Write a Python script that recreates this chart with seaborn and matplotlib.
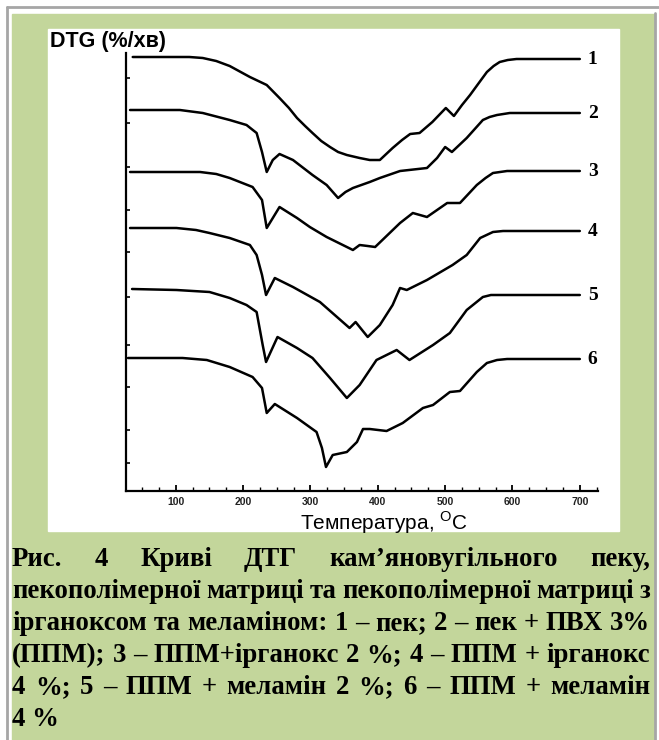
import numpy as np
import pandas as pd
import matplotlib
matplotlib.use("Agg")
import matplotlib.pyplot as plt
from matplotlib.patches import Rectangle
from matplotlib.lines import Line2D
from matplotlib.ticker import MultipleLocator
import seaborn as sns

# DTG curves: temperature (C) and DTG (arbitrary units, curves shifted)
t1 = [36, 120, 140, 160, 180, 210, 235, 254, 268, 280, 292, 303, 316, 329, 341, 354, 373, 388, 403, 422, 436, 448, 462, 481, 501, 513, 525, 537, 550, 562, 572, 581, 593, 606, 700]
dtg1 = [434, 434, 433, 430, 425, 414, 406, 393, 383, 373, 365, 358, 350, 344, 339, 336, 333, 331, 331, 343, 351, 357, 358, 369, 383, 375, 386, 396, 408, 419, 425, 429, 431, 432, 432]

t2 = [32, 106, 140, 180, 205, 220, 228, 235, 244, 254, 274, 303, 324, 341, 352, 363, 388, 403, 433, 473, 488, 500, 510, 532, 556, 566, 577, 596, 700]
dtg2 = [381, 381, 378, 371, 366, 358, 339, 319, 331, 337, 331, 316, 306, 293, 299, 303, 309, 313, 320, 323, 333, 344, 339, 353, 371, 374, 376, 378, 378]

t3 = [32, 136, 160, 180, 214, 228, 235, 254, 280, 299, 324, 363, 373, 385, 396, 433, 452, 473, 503, 522, 547, 560, 571, 592, 700]
dtg3 = [319, 319, 317, 313, 304, 291, 263, 284, 273, 264, 254, 241, 246, 245, 244, 268, 278, 274, 288, 288, 306, 313, 318, 320, 320]

t4 = [32, 101, 130, 150, 180, 210, 220, 228, 234, 247, 274, 314, 358, 367, 385, 403, 422, 433, 443, 473, 511, 532, 552, 571, 586, 700]
dtg4 = [263, 263, 261, 258, 253, 246, 236, 216, 196, 213, 204, 189, 163, 169, 154, 166, 186, 203, 201, 211, 226, 236, 253, 259, 260, 260]

t5 = [35, 101, 150, 180, 205, 220, 229, 234, 251, 280, 303, 329, 354, 373, 398, 428, 447, 482, 507, 532, 556, 568, 581, 700]
dtg5 = [202, 201, 199, 193, 186, 179, 146, 129, 154, 143, 133, 113, 93, 106, 131, 141, 131, 146, 158, 181, 194, 196, 196, 196]

t6 = [29, 110, 146, 180, 214, 228, 235, 247, 280, 309, 317, 323, 333, 354, 369, 378, 388, 413, 437, 467, 482, 507, 522, 547, 562, 577, 592, 700]
dtg6 = [133, 133, 131, 124, 114, 103, 78, 87, 73, 59, 43, 24, 36, 39, 49, 62, 62, 60, 68, 83, 86, 99, 100, 119, 128, 131, 132, 132]

curve_names = ["1", "2", "3", "4", "5", "6"]
temps = [t1, t2, t3, t4, t5, t6]
dtgs = [dtg1, dtg2, dtg3, dtg4, dtg5, dtg6]

x_ticks = [100, 200, 300, 400, 500, 600, 700]
y_ticks = [28, 61, 104, 146, 194, 239, 281, 324, 368, 413]

y_title = "DTG (%/хв)"
x_title = "Температура, $^{\\mathrm{O}}$C"
caption_lines = [
    "Рис. 4 Криві ДТГ кам’яновугільного пеку,",
    "пекополімерної матриці та пекополімерної матриці з",
    "ірганоксом та меламіном: 1 – пек; 2 – пек + ПВХ 3%",
    "(ППМ); 3 – ППМ+ірганокс 2 %; 4 – ППМ + ірганокс",
    "4 %; 5 – ППМ + меламін 2 %; 6 – ППМ + меламін",
    "4 %",
]

sns.set_style("ticks")
plt.rcParams["font.family"] = ["Liberation Sans", "DejaVu Sans"]
plt.rcParams["text.color"] = "black"
plt.rcParams["mathtext.fontset"] = "custom"
plt.rcParams["mathtext.rm"] = "Liberation Sans"

W, H = 659, 740
fig = plt.figure(figsize=(W / 100, H / 100), dpi=100)
fig.patch.set_facecolor("white")


def box(x0, y0, x1, y1):
    # pixel box (top-left origin) -> figure fraction rectangle
    return (x0 / W, 1 - y1 / H), (x1 - x0) / W, (y1 - y0) / H


# page background: green cell, white picture panel, grey cell borders
for (x0, y0, x1, y1, col) in [(12, 14, 654, 740, "#c3d69b"), (48, 29, 619, 531, "white")]:
    xy, w, h = box(x0, y0, x1, y1)
    fig.patches.append(Rectangle(xy, w, h, transform=fig.transFigure, color=col, zorder=-2))
grey = "#a6a6a6"
fig.lines.append(Line2D([7 / W, 1], [1 - 7 / H] * 2, transform=fig.transFigure, color=grey, lw=2, zorder=-1))
fig.lines.append(Line2D([7 / W] * 2, [0, 1 - 7 / H], transform=fig.transFigure, color=grey, lw=2, zorder=-1))
fig.lines.append(Line2D([655 / W] * 2, [0, 1 - 13 / H], transform=fig.transFigure, color=grey, lw=2, zorder=-1))

ax = fig.add_axes([126 / W, 1 - 491 / H, (598 - 126) / W, (491 - 53) / H])
ax.set_facecolor("none")

rows = []
for name, t, d in zip(curve_names, temps, dtgs):
    rows += [(name, a, b) for a, b in zip(t, d)]
df = pd.DataFrame(rows, columns=["curve", "T", "DTG"])
sns.lineplot(data=df, x="T", y="DTG", units="curve", estimator=None, sort=False,
             color="black", lw=1.8, ax=ax)
for ln in ax.lines:
    ln.set_solid_joinstyle("round")

for name, d in zip(curve_names, dtgs):
    ax.text(719, d[-1], name, fontfamily="Liberation Serif", fontweight="bold",
            fontsize=14, ha="center", va="center", clip_on=False)

ax.set_xlim(26, 727)
ax.set_ylim(0, 438)
for s in ["top", "right"]:
    ax.spines[s].set_visible(False)
for s in ["left", "bottom"]:
    ax.spines[s].set_linewidth(1.6)
    ax.spines[s].set_color("black")

ax.set_xticks(x_ticks)
ax.set_xticklabels([str(v) for v in x_ticks], fontweight="bold", fontsize=7.5, color="#222222")
ax.xaxis.set_minor_locator(MultipleLocator(25))
ax.tick_params(axis="x", which="major", direction="in", length=4, width=1.3, pad=4, color="black")
ax.tick_params(axis="x", which="minor", direction="in", length=3, width=1.0, color="black")
ax.set_yticks(y_ticks)
ax.set_yticklabels([])
ax.tick_params(axis="y", direction="in", length=3, width=1.2, color="black")

ax.set_xlabel(x_title, fontsize=15, color="black")
ax.xaxis.set_label_coords(0.547, -0.043, transform=ax.transAxes)
ax.xaxis.label.set_va("top")
ax.set_ylabel("")
fig.text(50 / W, 1 - 41 / H, y_title, fontsize=15.5, fontweight="bold", ha="left", va="center")

# justified bold caption below the picture
fig.canvas.draw()
r = fig.canvas.get_renderer()
left, right = 12, 650
base0, pitch = 566, 32
cap_font = dict(fontfamily="Liberation Serif", fontweight="bold", fontsize=19.3, va="baseline")
for i, line in enumerate(caption_lines):
    y = 1 - (base0 + i * pitch) / H
    if i == len(caption_lines) - 1:
        fig.text(left / W, y, line, **cap_font)
        continue
    words = line.split()
    texts = [fig.text(0, y, w, **cap_font) for w in words]
    widths = [t.get_window_extent(r).width for t in texts]
    gap = (right - left - sum(widths)) / (len(words) - 1)
    x = left
    for t, w in zip(texts, widths):
        t.set_x(x / W)
        x += w + gap

fig.savefig("out.png", dpi=100, facecolor="white")
